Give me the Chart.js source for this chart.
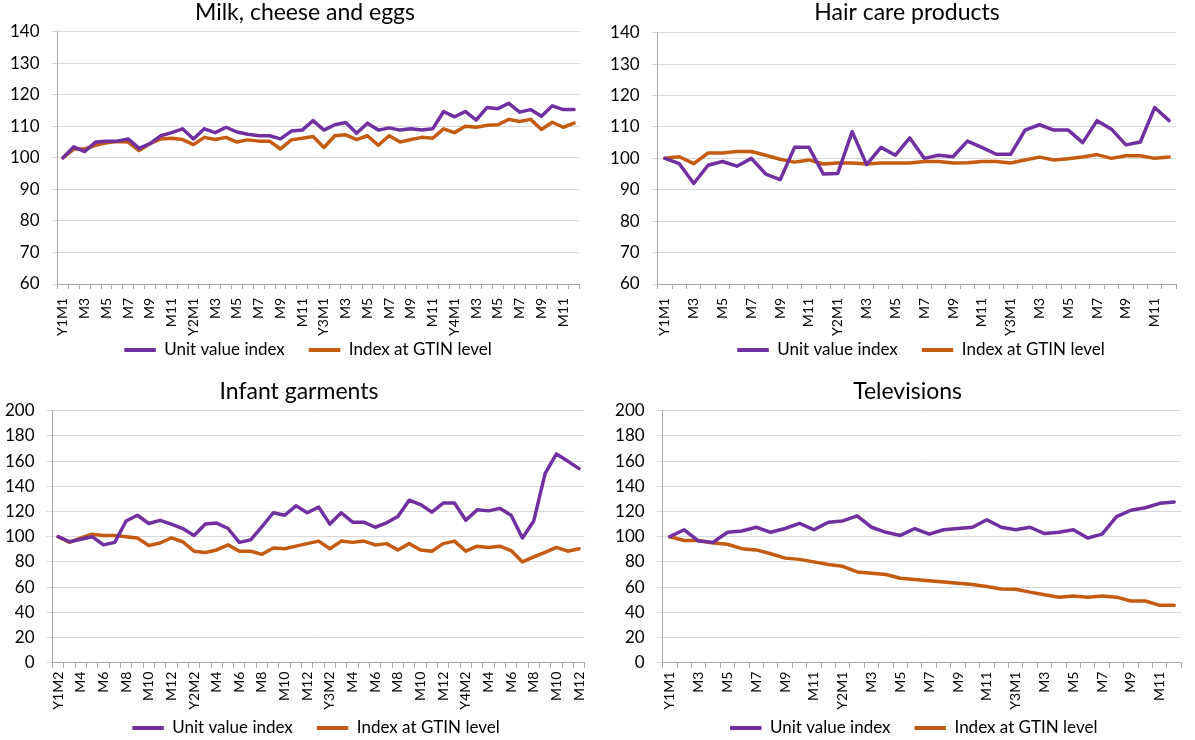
<!DOCTYPE html>
<html>
<head>
<meta charset="utf-8">
<script src="https://cdn.jsdelivr.net/npm/chart.js@4.4.1/dist/chart.umd.min.js"></script>
<style>
  html, body { margin: 0; padding: 0; background: #fff; overflow: hidden; width: 1195px; height: 740px; }
  canvas { position: absolute; }
</style>
</head>
<body>
<canvas id="milk" width="600" height="400" style="left:0;top:0"></canvas>
<canvas id="hair" width="595" height="400" style="left:600px;top:0"></canvas>
<canvas id="infant" width="600" height="400" style="left:0;top:370px"></canvas>
<canvas id="tv" width="595" height="400" style="left:600px;top:370px"></canvas>
<script>
// Month labels (every other one is printed on the axis)
const monthsY1toY4 = ['Y1M1','M2','M3','M4','M5','M6','M7','M8','M9','M10','M11','M12',
                      'Y2M1','M2','M3','M4','M5','M6','M7','M8','M9','M10','M11','M12',
                      'Y3M1','M2','M3','M4','M5','M6','M7','M8','M9','M10','M11','M12',
                      'Y4M1','M2','M3','M4','M5','M6','M7','M8','M9','M10','M11','M12'];
const monthsY1toY3 = ['Y1M1','M2','M3','M4','M5','M6','M7','M8','M9','M10','M11','M12',
                      'Y2M1','M2','M3','M4','M5','M6','M7','M8','M9','M10','M11','M12',
                      'Y3M1','M2','M3','M4','M5','M6','M7','M8','M9','M10','M11','M12'];
const monthsY1M2toY4 = ['Y1M2','M3','M4','M5','M6','M7','M8','M9','M10','M11','M12',
                        'Y2M1','Y2M2','M3','M4','M5','M6','M7','M8','M9','M10','M11','M12',
                        'Y3M1','Y3M2','M3','M4','M5','M6','M7','M8','M9','M10','M11','M12',
                        'Y4M1','Y4M2','M3','M4','M5','M6','M7','M8','M9','M10','M11','M12'];

// Milk, cheese and eggs
const milkUnit = [100,103.5,102,105,105.3,105.3,106,103,104.5,107,108,109.2,
                  106,109.2,108,109.7,108.2,107.5,107,107,106,108.5,108.8,111.8,
                  108.8,110.5,111.2,107.8,111,108.8,109.5,108.8,109.2,108.8,109.2,114.7,
                  113,114.7,112,116,115.6,117.3,114.5,115.3,113.2,116.5,115.3,115.3];
const milkGtin = [100,102.8,102.8,104,104.8,105.2,105,102.3,104.5,106,106.2,105.8,
                  104.2,106.5,105.8,106.5,105,105.7,105.3,105.3,102.8,105.7,106.2,106.8,
                  103.3,107,107.3,105.8,107,104,107,105,105.8,106.5,106.2,109.2,
                  108,110,109.7,110.3,110.5,112.2,111.5,112.2,109,111.3,109.7,111];

// Hair care products
const hairUnit = [100,98.3,92,97.8,99,97.5,100,95,93.2,103.5,103.5,95,
                  95.2,108.5,98,103.5,101,106.5,100,101,100.5,105.5,103.5,101.3,
                  101.3,109,110.7,109,109,105,112,109.3,104.3,105.2,116.2,112];
const hairGtin = [100,100.5,98.3,101.7,101.7,102.2,102.2,101,99.7,98.8,99.5,98.2,
                  98.5,98.5,98.2,98.5,98.5,98.5,99,99,98.5,98.6,99,99,
                  98.5,99.5,100.4,99.5,99.9,100.4,101.2,100,100.8,100.8,100,100.4];

// Infant garments
const infantUnit = [100,96,98,100,93.5,95.5,112.5,117,110.5,113,110,
                    106.5,101,110,110.8,106.5,95.5,97.5,108,119,117,124.5,119,
                    123.5,110,119,111.5,111.5,107.5,111,116,129,125.5,119.5,126.7,
                    126.7,113,121.3,120.5,122.5,117,99,112.5,150,165.7,160,154];
const infantGtin = [100,95.5,99,102,101,101,100,99,93,95,99,
                    96,88.5,87.5,89.5,93.5,88.5,88.5,86,91,90.5,92.5,94.5,
                    96.5,90.5,96.5,95.5,96.5,93.5,94.5,89.5,94.5,89.5,88.5,94.5,
                    96.5,88.5,92.5,91.5,92.5,89,80,84,87.5,91.5,88.5,90.5];

// Televisions
const tvUnit = [100,105.5,96.5,95.5,103.5,104.5,107.5,103.5,106.5,110.5,105.5,111.5,
                112.5,116.5,107.5,103.5,101,106.5,102,105.5,106.5,107.5,113.5,107.5,
                105.5,107.5,102.5,103.5,105.5,99,102,116,121,123,126.5,127.5];
const tvGtin = [100,97,97,95,94,90.5,89.5,86.5,83,82,80,78,
                76.5,72,71,70,67,66,65,64,63,62,60.5,58.5,
                58.3,56,54,52,53,52,53,52,49,49,45.5,45.5];

const seriesNames = ['Unit value index', 'Index at GTIN level'];

const PURPLE = '#7030A0';
const ORANGE = '#C55A11';
const FONT = 'Lato, "DejaVu Sans", sans-serif';
const TEXT = '#000000';
const AXIS = '#A6A6A6';
const GRID = '#D9D9D9';
const LEGEND_SIZE = 17;

// Panel heading drawn above the plot
const panelTitle = {
  id: 'panelTitle',
  afterDraw(chart, args, opts) {
    const ctx = chart.ctx;
    ctx.save();
    ctx.font = opts.size + 'px ' + FONT;
    ctx.fillStyle = TEXT;
    ctx.textAlign = 'center';
    ctx.textBaseline = 'alphabetic';
    ctx.fillText(opts.text, opts.x, opts.y);
    ctx.restore();
  }
};

// Centre the legend row on a chosen point under the plot
const legendPlacement = {
  id: 'legendPlacement',
  afterLayout(chart, args, opts) {
    const lg = chart.legend;
    if (!lg) return;
    const w = lg.right - lg.left;
    const h = lg.bottom - lg.top;
    lg.left = opts.cx - w / 2;
    lg.right = lg.left + w;
    lg.top = opts.cy - lg.options.labels.padding - LEGEND_SIZE / 2;
    lg.bottom = lg.top + h;
  }
};

function makePanel(id, p) {
  new Chart(document.getElementById(id), {
    type: 'line',
    data: {
      labels: p.labels,
      datasets: [
        { label: seriesNames[0], data: p.unit, borderColor: PURPLE, backgroundColor: PURPLE,
          borderWidth: 3.5, pointRadius: 0, tension: 0, borderJoinStyle: 'round', borderCapStyle: 'round' },
        { label: seriesNames[1], data: p.gtin, borderColor: ORANGE, backgroundColor: ORANGE,
          borderWidth: 3.5, pointRadius: 0, tension: 0, borderJoinStyle: 'round', borderCapStyle: 'round' }
      ]
    },
    options: {
      responsive: false,
      animation: false,
      events: [],
      layout: { autoPadding: false, padding: p.pad },
      plugins: {
        tooltip: { enabled: false },
        panelTitle: { text: p.title, x: p.titleX, y: p.titleY, size: 23 },
        legendPlacement: { cx: p.legendX, cy: p.legendY },
        legend: {
          position: 'bottom',
          labels: {
            boxWidth: 31.5, boxHeight: 4, padding: 24,
            color: TEXT, font: { family: FONT, size: LEGEND_SIZE },
            generateLabels(chart) {
              return Chart.defaults.plugins.legend.labels.generateLabels(chart)
                .map(item => Object.assign(item, { lineWidth: 0 }));
            }
          }
        }
      },
      scales: {
        x: {
          offset: true,
          grid: { offset: true, drawOnChartArea: false, drawTicks: true, tickLength: 5, color: AXIS, tickColor: AXIS },
          border: { color: AXIS, width: 1 },
          ticks: {
            autoSkip: false, minRotation: 90, maxRotation: 90, padding: p.xPad,
            color: TEXT, font: { family: FONT, size: 14 },
            callback(value, index) { return index % 2 === 0 ? this.getLabelForValue(value) : ''; }
          },
          afterFit(scale) { scale.height = p.xH; }
        },
        y: {
          min: p.yMin, max: p.yMax,
          grid: { color: GRID, lineWidth: 1, tickLength: 6, tickColor: GRID },
          border: { color: AXIS, width: 1 },
          ticks: { stepSize: p.yStep, padding: 12, color: TEXT, font: { family: FONT, size: 17 } },
          afterFit(scale) { scale.width = p.yW; }
        }
      }
    },
    plugins: [panelTitle, legendPlacement]
  });
}

makePanel('milk', {
  title: 'Milk, cheese and eggs', titleX: 305, titleY: 20.4,
  labels: monthsY1toY4, unit: milkUnit, gtin: milkGtin,
  yMin: 60, yMax: 140, yStep: 10,
  pad: { left: 0, right: 13, top: 31.7, bottom: 5 }, yW: 57.5, xH: 60, xPad: 9,
  legendX: 308, legendY: 350
});
makePanel('hair', {
  title: 'Hair care products', titleX: 307, titleY: 20.4,
  labels: monthsY1toY3, unit: hairUnit, gtin: hairGtin,
  yMin: 60, yMax: 140, yStep: 10,
  pad: { left: 0, right: 6, top: 32.7, bottom: 5 }, yW: 57.7, xH: 60, xPad: 9,
  legendX: 321, legendY: 350
});
makePanel('infant', {
  title: 'Infant garments', titleX: 299, titleY: 29,
  labels: monthsY1M2toY4, unit: infantUnit, gtin: infantGtin,
  yMin: 0, yMax: 200, yStep: 20,
  pad: { left: 0, right: 15, top: 40.7, bottom: 0 }, yW: 52.5, xH: 56.3, xPad: 4,
  legendX: 316, legendY: 358
});
makePanel('tv', {
  title: 'Televisions', titleX: 307.6, titleY: 29,
  labels: monthsY1toY3, unit: tvUnit, gtin: tvGtin,
  yMin: 0, yMax: 200, yStep: 20,
  pad: { left: 0, right: 2, top: 40.7, bottom: 0 }, yW: 62.6, xH: 56.3, xPad: 4,
  legendX: 313.7, legendY: 358
});
</script>
</body>
</html>
